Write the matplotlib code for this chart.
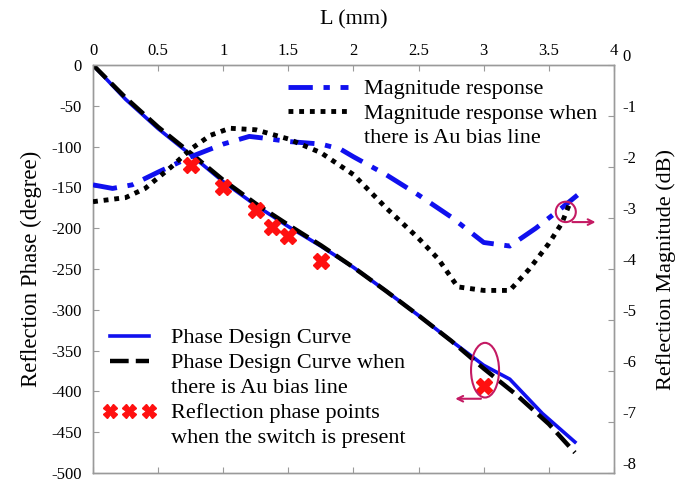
import numpy as np
import matplotlib
matplotlib.use("Agg")
import matplotlib.pyplot as plt
from matplotlib.patches import Ellipse
from matplotlib.lines import Line2D
from matplotlib.transforms import ScaledTranslation

plt.rcParams['font.family'] = ['Liberation Serif', 'DejaVu Serif']
plt.rcParams['axes.unicode_minus'] = False

# data
L_phase = [0, 0.25, 0.5, 0.75, 1.0, 1.25, 1.5, 1.75, 2.0, 2.25, 2.5, 2.75, 3.0, 3.2, 3.45, 3.7]
phase_design = [0, -42, -78, -110, -143, -172, -198, -222, -248, -277, -307, -338, -368, -385, -427, -462]
L_phase_au = [0, 0.25, 0.5, 0.75, 1.0, 1.25, 1.5, 1.75, 2.0, 2.25, 2.5, 2.75, 3.0, 3.25, 3.5, 3.7]
phase_design_au = [0, -40, -76, -108, -141, -170, -196, -221, -248, -277, -307, -338, -372, -404, -440, -475]

L_switch = [0.75, 1.0, 1.25, 1.375, 1.5, 1.75, 3.0]
phase_switch = [-122, -150, -178, -198, -210, -240, -393]

L_mag = [0, 0.15, 0.3, 0.5, 0.75, 1.0, 1.2, 1.3, 1.5, 1.75, 1.9, 2.0, 2.25, 2.5, 2.75, 3.0, 3.2, 3.4, 3.6, 3.72]
mag = [-2.35, -2.42, -2.35, -2.1, -1.8, -1.55, -1.4, -1.43, -1.5, -1.55, -1.65, -1.8, -2.15, -2.55, -2.98,
       -3.48, -3.55, -3.2, -2.8, -2.55]
L_mag_au = [0, 0.25, 0.4, 0.6, 0.75, 0.9, 1.05, 1.25, 1.5, 1.75, 2.0, 2.25, 2.5, 2.65, 2.8, 3.0, 3.2, 3.35,
            3.5, 3.6, 3.67]
mag_au = [-2.68, -2.6, -2.42, -2.0, -1.65, -1.38, -1.24, -1.27, -1.45, -1.72, -2.15, -2.8, -3.4, -3.8, -4.35,
          -4.42, -4.42, -4.0, -3.5, -3.1, -2.65]

grey = '#9a9a9a'
mark = '#c41a63'
blue = '#1010ee'
dash_mag = (5, 2.2, 1.3, 2.2)
dash_au = (1.0, 1.2)
dash_ph = (4.2, 1.6)

fig = plt.figure(figsize=(6.87, 4.83), dpi=100)
ax = fig.add_axes([0.1354, 0.0207, 0.7583, 0.8447])
ax2 = ax.twinx()

# phase curves
ax.plot(L_phase, phase_design, color=blue, lw=2.6, zorder=3)
ax.plot(L_phase_au, phase_design_au, color='black', lw=3.2, dashes=dash_ph, zorder=4)
ax.plot(L_switch, phase_switch, ls='none', marker='X', ms=11, color='#ff1010', mec='#ff1010', zorder=5)

# magnitude curves
ax2.plot(L_mag, mag, color=blue, lw=3.5, dashes=dash_mag, zorder=3)
ax2.plot(L_mag_au, mag_au, color='black', lw=3.5, dashes=dash_au, zorder=3)

ax.set_xlim(0, 4)
ax.set_ylim(-500, 0)
ax2.set_ylim(-8, 0)
ax.set_xticks(np.arange(0, 4.01, 0.5))
ax.set_xticklabels(['0', '0.5', '1', '1.5', '2', '2.5', '3', '3.5', '4'])
ax.set_yticks(np.arange(-500, 1, 50))
ax2.set_yticks(np.arange(-8, 1, 1))

ax.tick_params(axis='x', top=True, bottom=True, labeltop=True, labelbottom=False,
               direction='in', length=4, color=grey, labelsize=12, pad=4)
ax.tick_params(axis='y', direction='in', length=4, color=grey, labelsize=12, pad=8)
ax2.tick_params(axis='y', direction='in', length=4, color=grey, labelsize=12, pad=6)
for a in (ax, ax2):
    for s in a.spines.values():
        s.set_color(grey)
        s.set_linewidth(1.0)

for lbl in ax2.get_yticklabels():
    lbl.set_transform(lbl.get_transform() + ScaledTranslation(0, 7 / 72, fig.dpi_scale_trans))

ax.xaxis.set_label_position('top')
ax.set_xlabel('L (mm)', fontsize=16, labelpad=14)
ax.set_ylabel('Reflection Phase (degree)', fontsize=16.5, labelpad=7)
ax2.set_ylabel('Reflection Magnitude (dB)', fontsize=16, labelpad=14)

# annotations
ax.add_patch(Ellipse((3.01, -374), 0.215, 67, fill=False, ec=mark, lw=1.5, zorder=6))
ax.annotate('', xy=(2.76, -409), xytext=(3.0, -409),
            arrowprops=dict(arrowstyle='->', color=mark, lw=1.5), zorder=6)
ax2.add_patch(Ellipse((3.63, -2.88), 0.154, 0.4, fill=False, ec=mark, lw=1.5, zorder=6))
ax2.annotate('', xy=(3.88, -3.08), xytext=(3.66, -3.08),
             arrowprops=dict(arrowstyle='->', color=mark, lw=1.5), zorder=6)

# legends: second lines as entries with blank handles so each key sits on its first line
blank = Line2D([], [], ls='none')
h_mag = [Line2D([], [], color=blue, lw=3.5, dashes=dash_mag),
         Line2D([], [], color='black', lw=3.5, dashes=dash_au),
         blank]
leg1 = ax2.legend(h_mag, ['Magnitude response', 'Magnitude response when', 'there is Au bias line'],
                  loc='upper left', bbox_to_anchor=(0.345, 1.004), frameon=False, fontsize=16,
                  handlelength=2.7, handletextpad=0.7, labelspacing=0.17, borderaxespad=0.3)

h_ph = [Line2D([], [], color=blue, lw=2.6),
        Line2D([], [], color='black', lw=3.2, dashes=dash_ph),
        blank,
        Line2D([], [], ls='none', marker='X', ms=10, color='#ff1010'),
        blank]
leg2 = ax.legend(h_ph, ['Phase Design Curve', 'Phase Design Curve when', 'there is Au bias line',
                        'Reflection phase points', 'when the switch is present'],
                 loc='upper left', bbox_to_anchor=(-0.019, 0.405), frameon=False, fontsize=16,
                 handlelength=2.35, handletextpad=0.7, labelspacing=0.2, numpoints=3)

fig.savefig('out.png', dpi=100)
